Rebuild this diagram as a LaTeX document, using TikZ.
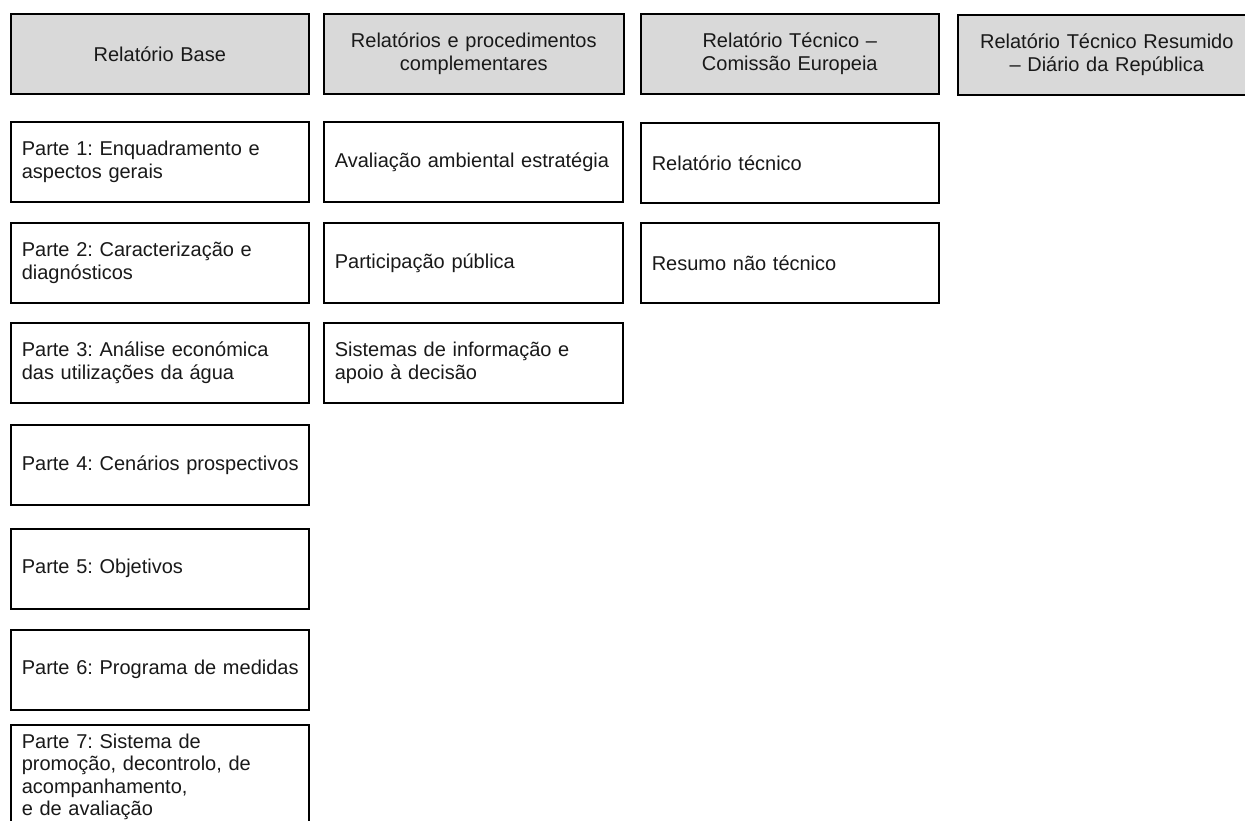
\documentclass[tikz,border=0pt]{standalone}
\usepackage{fontspec}
\setmainfont{Liberation Sans}
\frenchspacing
\begin{document}
\begin{tikzpicture}[x=1bp, y=-1bp,
  every node/.style={font=\fontsize{20bp}{22.5bp}\selectfont, text=black!90},
  headbox/.style={draw, line width=1.6bp, fill=black!15, anchor=north west,
    minimum height=80bp, inner xsep=8bp, align=center},
  itembox/.style={draw, line width=1.6bp, fill=white, anchor=north west,
    minimum height=80bp, inner xsep=11bp, align=left}]
  \useasboundingbox (0,0) rectangle (1245,821);

  % column headers
  \node[headbox, text width=282bp] (h1) at (10,13) {Relatório Base};
  \node[headbox, text width=284bp] (h2) at (323,13) {Relatórios e procedimentos\\complementares};
  \node[headbox, text width=282bp] (h3) at (640,13) {Relatório Técnico –\\Comissão Europeia};
  \node[headbox, text width=282bp] (h4) at (957,14) {Relatório Técnico Resumido\\– Diário da República};

  % Relatório Base
  \node[itembox, text width=276bp] (p1) at (10,121) {\mbox{Parte 1: Enquadramento e}\\aspectos gerais};
  \node[itembox, text width=276bp] (p2) at (10,222) {\mbox{Parte 2: Caracterização e}\\diagnósticos};
  \node[itembox, text width=276bp] (p3) at (10,322) {\mbox{Parte 3: Análise económica}\\\mbox{das utilizações da água}};
  \node[itembox, text width=276bp] (p4) at (10,424) {\mbox{Parte 4: Cenários prospectivos}};
  \node[itembox, text width=276bp] (p5) at (10,528) {Parte 5: Objetivos};
  \node[itembox, text width=276bp] (p6) at (10,629) {\mbox{Parte 6: Programa de medidas}};
  \node[itembox, text width=276bp, minimum height=104bp] (p7) at (10,724)
    {Parte 7: Sistema de\\\mbox{promoção, decontrolo, de}\\acompanhamento,\\e de avaliação};

  % Relatórios e procedimentos complementares
  \node[itembox, text width=277bp] (c1) at (323,121) {\mbox{Avaliação ambiental estratégia}};
  \node[itembox, text width=277bp] (c2) at (323,222) {Participação pública};
  \node[itembox, text width=277bp] (c3) at (323,322) {\mbox{Sistemas de informação e}\\apoio à decisão};

  % Relatório Técnico – Comissão Europeia
  \node[itembox, text width=276bp] (t1) at (640,122) {Relatório técnico};
  \node[itembox, text width=276bp] (t2) at (640,222) {Resumo não técnico};
\end{tikzpicture}
\end{document}
